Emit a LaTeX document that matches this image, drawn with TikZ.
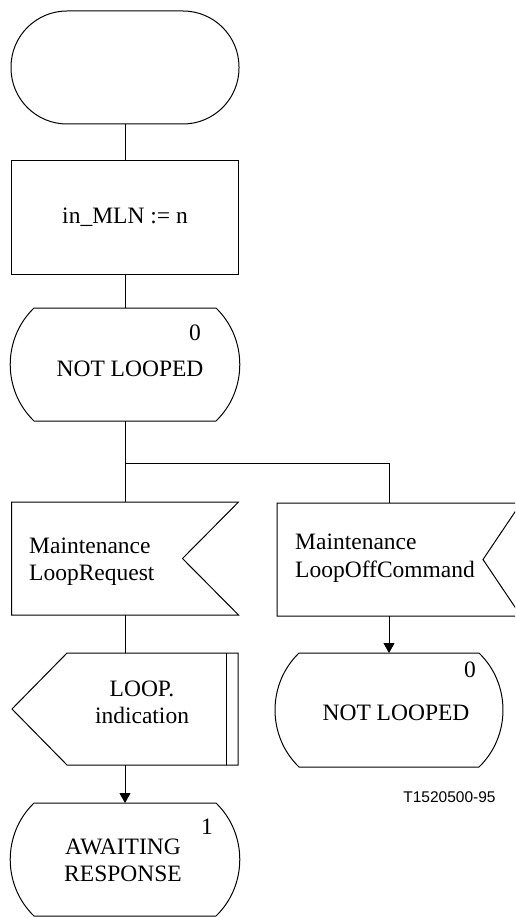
\documentclass[tikz,border=0pt]{standalone}
\usepackage{fontspec}
\setmainfont{Liberation Serif}
\newfontfamily\figfont{Liberation Sans}
\usetikzlibrary{calc, arrows.meta}

\tikzset{
    sdl/.style={line width=1pt, line join=miter},
    frame/.style={inner sep=0pt, outer sep=0pt, minimum width=228pt, minimum height=113pt},
    txt/.style={inner sep=0pt, font=\fontsize{23.5}{27.5}\selectfont},
    flow/.style={sdl, -{Triangle[length=10pt, width=11pt]}}
}

\begin{document}
\begin{tikzpicture}[x=1pt, y=-1pt]
    % Define symbol sizes
    \def\notch{56}
    \def\inset{23}

    % Fix the page
    \clip (0,0) rectangle (515,917);

    % Draw start and task
    \node[frame, sdl, draw, rounded corners=56pt] (start) at (125,67.5) {};
    \node[frame, sdl, draw, minimum width=227pt, txt] (setmln) at (125,217.5) {in\_MLN := n};

    % Draw state symbols
    \node[frame] (idle) at (125,364.5) {};
    \node[frame, minimum width=226pt, minimum height=114pt] (offst) at (389,710) {};
    \node[frame] (await) at (125,859.5) {};
    \foreach \s in {idle, offst, await}
        \draw[sdl] ($(\s.north west)+(\inset,0)$) -- ($(\s.north east)+(-\inset,0)$)
            to[bend left=46] ($(\s.south east)+(-\inset,0)$) -- ($(\s.south west)+(\inset,0)$)
            to[bend left=46] ($(\s.north west)+(\inset,0)$) -- cycle;

    % Label the states
    \node[txt] (idletxt) at (130,369) {NOT LOOPED};
    \node[txt] (idlenum) at (195,333) {0};
    \node[txt] (offsttxt) at (396,713) {NOT LOOPED};
    \node[txt] (offstnum) at (470,670) {0};
    \node[txt, align=center] (awaittxt) at (123,860.5) {AWAITING\\RESPONSE};
    \node[txt] (awaitnum) at (207,827) {1};

    % Draw input symbols
    \node[frame, minimum width=227pt] (req) at (125,558.5) {};
    \node[frame, minimum width=244pt] (off) at (399,559.5) {};
    \draw[sdl] (req.north west) -- (req.north east) -- ($(req.east)+(-\notch,0)$)
        -- (req.south east) -- (req.south west) -- cycle;
    \draw[sdl] (off.north west) -- (off.north east) -- ($(off.east)+(-38,0)$)
        -- (off.south east) -- (off.south west) -- cycle;
    \node[txt, align=left, anchor=west] (reqtxt) at (29,561.5) {Maintenance\\LoopRequest};
    \node[txt, align=left, anchor=west] (offtxt) at (295,558) {Maintenance\\LoopOffCommand};

    % Draw output symbol
    \node[frame, minimum width=226pt, minimum height=112pt] (ind) at (125,709) {};
    \draw[sdl] ($(ind.north west)+(55,0)$) -- (ind.north east) -- (ind.south east)
        -- ($(ind.south west)+(55,0)$) -- (ind.west) -- cycle;
    \draw[sdl] ($(ind.north east)+(-12,0)$) -- ($(ind.south east)+(-12,0)$);
    \node[txt, align=center] (indtxt) at (142,702.5) {LOOP.\\indication};

    % Draw connections
    \coordinate (fork) at (idle.south |- 0,463);
    \coordinate (offin) at ($(off.north west)+(112,0)$);
    \draw[sdl] (start) -- (setmln);
    \draw[sdl] (setmln) -- (idle);
    \draw[sdl] (idle) -- (req);
    \draw[sdl] (fork) -| (offin);
    \draw[sdl] (req) -- (ind);
    \draw[flow] (offin |- off.south) -- (offst);
    \draw[flow] (ind) -- (await);

    % Figure number
    \node[inner sep=0pt, font=\figfont\fontsize{15.5}{18}\selectfont] (fignum) at (449.5,797) {T1520500-95};

\end{tikzpicture}
\end{document}
